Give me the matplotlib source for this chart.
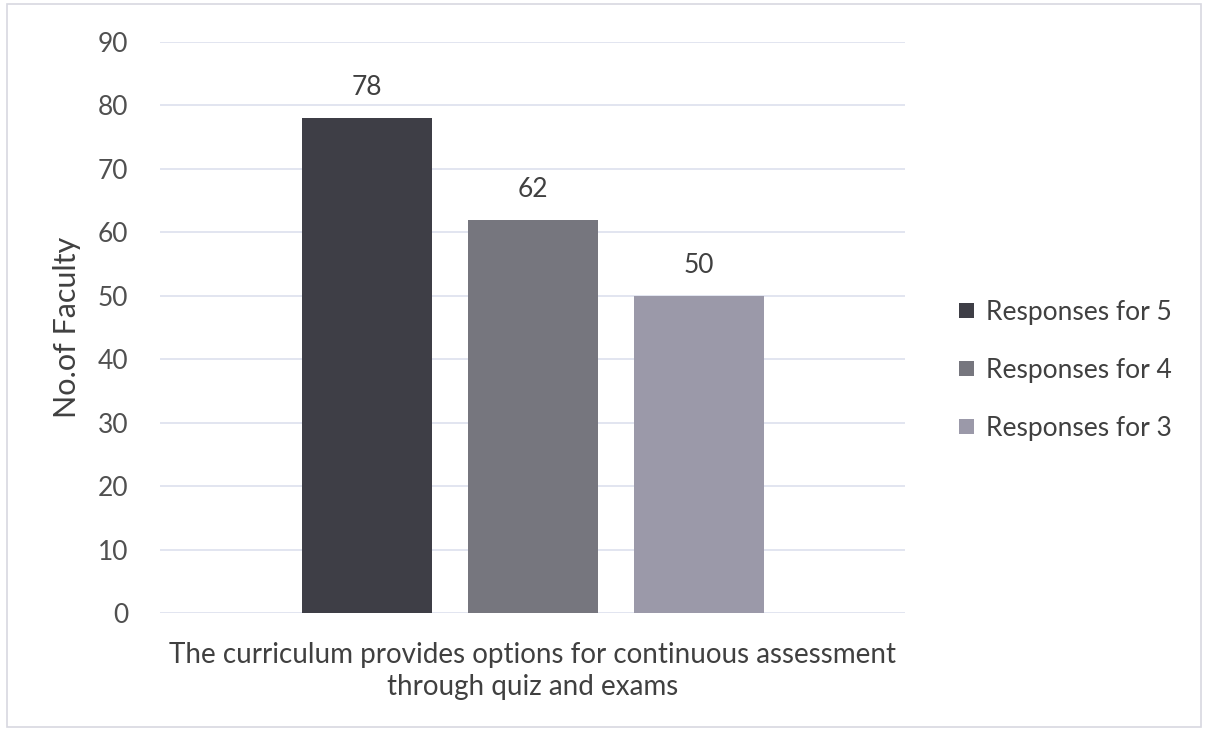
import matplotlib
matplotlib.use("Agg")
import matplotlib.pyplot as plt
from matplotlib.patches import Rectangle

category = "The curriculum provides options for continuous assessment\nthrough quiz and exams"
series = ["Responses for 5", "Responses for 4", "Responses for 3"]
values = [78, 62, 50]
colors = ["#3e3e46", "#76767e", "#9b99a9"]
yticks = [0, 10, 20, 30, 40, 50, 60, 70, 80, 90]

plt.rcParams['font.family'] = ['Lato', 'DejaVu Sans']

fig = plt.figure(figsize=(12.08, 7.31), dpi=100)
ax = fig.add_axes([0.1325, 0.1614, 0.6167, 0.7811])

offsets = [-0.2228, 0.0, 0.2228]
width = 0.1745
for off, v, c, s in zip(offsets, values, colors, series):
    ax.bar(off, v, width=width, color=c, label=s, zorder=3)
    ax.text(off, v + 2.8, str(v), ha='center', va='bottom', fontsize=19, color='#404040')

ax.set_xlim(-0.5, 0.5)
ax.set_ylim(0, 90)
ax.set_yticks(yticks)
ax.set_yticklabels([str(t) for t in yticks], fontsize=19, color='#505050')
ax.set_xticks([0])
ax.set_xticklabels([category], fontsize=20, color='#404040', linespacing=1.3)
ax.tick_params(axis='x', length=0, pad=21)
ax.tick_params(axis='y', length=0, pad=23)
ax.grid(axis='y', color='#dde0ee', linewidth=1.2, zorder=0)
for sp in ax.spines.values():
    sp.set_visible(False)
ax.set_ylabel("No.of Faculty", fontsize=22, color='#404040', labelpad=12)

leg = ax.legend(loc='center left', bbox_to_anchor=(1.041, 0.425), frameon=False,
                fontsize=19, handlelength=0.55, handleheight=0.55, handletextpad=0.45,
                labelspacing=1.25, labelcolor='#404040')

fig.patches.append(Rectangle((0.006, 0.006), 0.988, 0.988, transform=fig.transFigure,
                             fill=False, edgecolor='#d8d8e0', linewidth=1.2))

fig.savefig("out.png", dpi=100)
